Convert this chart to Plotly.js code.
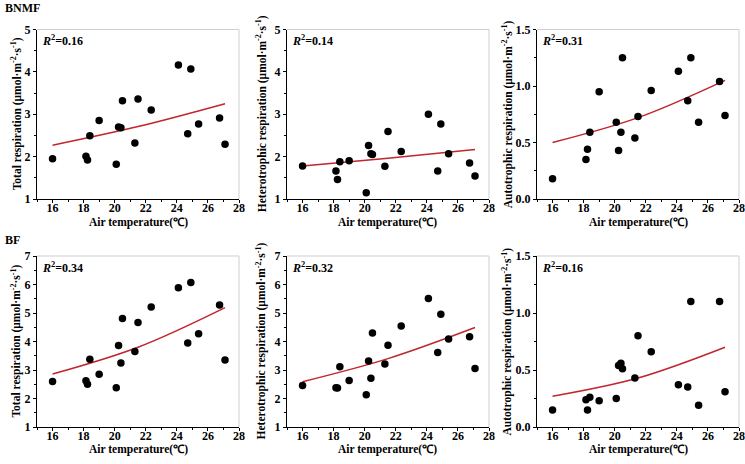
<!DOCTYPE html>
<html>
<head>
<meta charset="utf-8">
<script src="https://cdn.plot.ly/plotly-3.0.1.min.js"></script>
<style>
  html, body { margin: 0; padding: 0; background: #fff; }
  #chart { width: 745px; height: 464px; }
</style>
</head>
<body>
<div id="chart"></div>
<script>
// air temperature, same for every panel
const temp = [16.0, 18.15, 18.25, 18.4, 19.0, 20.1, 20.25, 20.4, 20.5, 21.3, 21.5, 22.35, 24.1, 24.7, 24.9, 25.4, 26.75, 27.1];

const bnmfTotal  = [1.95, 2.01, 1.92, 2.49, 2.85, 1.82, 2.70, 2.68, 3.32, 2.32, 3.36, 3.10, 4.16, 2.54, 4.07, 2.77, 2.91, 2.29];
const bnmfHetero = [1.78, 1.66, 1.46, 1.88, 1.90, 1.15, 2.26, 2.07, 2.05, 1.77, 2.59, 2.12, 3.00, 1.66, 2.77, 2.07, 1.85, 1.54];
const bnmfAuto   = [0.18, 0.35, 0.44, 0.59, 0.95, 0.68, 0.43, 0.59, 1.25, 0.54, 0.73, 0.96, 1.13, 0.87, 1.25, 0.68, 1.04, 0.74];
const bfTotal    = [2.60, 2.62, 2.50, 3.38, 2.85, 2.38, 3.86, 3.25, 4.81, 3.65, 4.67, 5.21, 5.89, 3.95, 6.07, 4.27, 5.28, 3.35];
const bfHetero   = [2.46, 2.38, 2.37, 3.11, 2.63, 2.13, 3.32, 2.71, 4.30, 3.21, 3.87, 4.54, 5.51, 3.61, 4.96, 4.09, 4.17, 3.05];
const bfAuto     = [0.15, 0.24, 0.15, 0.26, 0.23, 0.25, 0.54, 0.56, 0.51, 0.43, 0.80, 0.66, 0.37, 0.35, 1.10, 0.19, 1.10, 0.31];

// fitted curves at start / middle / end
const fitX = [16, 21.5, 27.1];
const fitBnmfTotal  = [2.27, 2.71, 3.25];
const fitBnmfHetero = [1.78, 1.96, 2.17];
const fitBnmfAuto   = [0.50, 0.72, 1.05];
const fitBfTotal    = [2.86, 3.80, 5.19];
const fitBfHetero   = [2.59, 3.40, 4.49];
const fitBfAuto     = [0.27, 0.43, 0.70];

const r2Labels = ['0.16', '0.14', '0.31', '0.34', '0.32', '0.16'];
const yTitles = ['Total respiration', 'Heterotrophic respiration', 'Autotrophic respiration'];
const groupLabels = ['BNMF', 'BF'];

const FONT = 'Liberation Serif, Times New Roman, serif';
const unit = ' (μmol·m<sup>-2</sup>·s<sup>-1</sup>)';

const W = 745, H = 464;
const xDom = [[37 / W, 239 / W], [287 / W, 489 / W], [537 / W, 739 / W]];
const yDom = [[1 - 199 / H, 1 - 29.5 / H], [1 - 427 / H, 1 - 256 / H]];
const yTitleGap = [21, 26, 30];

const panels = [
  {y: bnmfTotal, fit: fitBnmfTotal, range: [1, 5], dtick: 1},
  {y: bnmfHetero, fit: fitBnmfHetero, range: [1, 5], dtick: 1},
  {y: bnmfAuto, fit: fitBnmfAuto, range: [0, 1.5], dtick: 0.5},
  {y: bfTotal, fit: fitBfTotal, range: [1, 7], dtick: 1},
  {y: bfHetero, fit: fitBfHetero, range: [1, 7], dtick: 1},
  {y: bfAuto, fit: fitBfAuto, range: [0, 1.5], dtick: 0.5}
];

let data = [];
let layout = {
  width: W,
  height: H,
  margin: {l: 0, r: 0, t: 0, b: 0},
  paper_bgcolor: '#fff',
  plot_bgcolor: '#fff',
  showlegend: false,
  font: {family: FONT, size: 12, color: '#000'},
  annotations: [],
  shapes: []
};

const tickFont = {family: FONT, size: 12, weight: 700, color: '#000'};

panels.forEach(function (p, i) {
  let n = i + 1;
  let xa = n === 1 ? 'x' : 'x' + n;
  let ya = n === 1 ? 'y' : 'y' + n;
  let col = i % 3;
  let row = Math.floor(i / 3);

  data.push({
    x: fitX, y: p.fit, xaxis: xa, yaxis: ya,
    mode: 'lines', type: 'scatter',
    line: {color: '#c0262d', width: 1.5, shape: 'spline'},
    hoverinfo: 'skip'
  });
  data.push({
    x: temp, y: p.y, xaxis: xa, yaxis: ya,
    mode: 'markers', type: 'scatter',
    marker: {color: '#000', size: 7.5}
  });

  layout['xaxis' + (n === 1 ? '' : n)] = {
    domain: xDom[col], anchor: ya,
    range: [15, 28], dtick: 2, tick0: 16,
    showgrid: false, zeroline: false,
    showline: true, linecolor: '#000', linewidth: 1,
    ticks: 'outside', ticklen: 3, tickcolor: '#000',
    ticklabelstandoff: -5,
    minor: {dtick: 1, ticks: 'outside', ticklen: 2, tickcolor: '#000', showgrid: false},
    tickfont: tickFont
  };
  layout['yaxis' + (n === 1 ? '' : n)] = {
    domain: yDom[row], anchor: xa,
    range: p.range, dtick: p.dtick,
    tickformat: p.dtick < 1 ? '.1f' : 'd',
    showgrid: false, zeroline: false,
    showline: true, linecolor: '#000', linewidth: 1,
    ticks: 'outside', ticklen: 3, tickcolor: '#000',
    minor: {dtick: p.dtick / 2, ticks: 'outside', ticklen: 2, tickcolor: '#000', showgrid: false},
    tickfont: tickFont
  };

  // light top / right frame
  layout.shapes.push({type: 'line', xref: xa + ' domain', yref: ya + ' domain',
    x0: 0, x1: 1, y0: 1, y1: 1, line: {color: '#cfcfcf', width: 1}});
  layout.shapes.push({type: 'line', xref: xa + ' domain', yref: ya + ' domain',
    x0: 1, x1: 1, y0: 0, y1: 1, line: {color: '#cfcfcf', width: 1}});

  // R² label
  layout.annotations.push({
    xref: xa + ' domain', yref: ya + ' domain', x: 0.015, y: 0.935,
    xanchor: 'left', yanchor: 'middle', showarrow: false,
    text: '<b><i>R</i><sup>2</sup>=' + r2Labels[i] + '</b>',
    font: {family: FONT, size: 12}
  });

  // x title
  layout.annotations.push({
    xref: 'paper', yref: 'paper',
    x: (xDom[col][0] + xDom[col][1]) / 2,
    y: row === 0 ? 1 - 222 / H : 1 - 449 / H,
    xanchor: 'center', yanchor: 'middle', showarrow: false,
    text: '<b>Air temperature(℃)</b>',
    font: {family: FONT, size: 11.5}
  });

  // y title
  layout.annotations.push({
    xref: 'paper', yref: 'paper',
    x: xDom[col][0] - yTitleGap[col] / W,
    y: (yDom[row][0] + yDom[row][1]) / 2,
    xanchor: 'center', yanchor: 'middle', showarrow: false,
    textangle: -90,
    text: '<b>' + yTitles[col] + unit + '</b>',
    font: {family: FONT, size: 11.5}
  });
});

// group labels
layout.annotations.push({
  xref: 'paper', yref: 'paper', x: 3 / W, y: 1 - 8 / H,
  xanchor: 'left', yanchor: 'middle', showarrow: false,
  text: '<b>' + groupLabels[0] + '</b>', font: {family: FONT, size: 12}
});
layout.annotations.push({
  xref: 'paper', yref: 'paper', x: 3 / W, y: 1 - 240 / H,
  xanchor: 'left', yanchor: 'middle', showarrow: false,
  text: '<b>' + groupLabels[1] + '</b>', font: {family: FONT, size: 12}
});

Plotly.newPlot('chart', data, layout, {displayModeBar: false, staticPlot: true});
</script>
</body>
</html>
